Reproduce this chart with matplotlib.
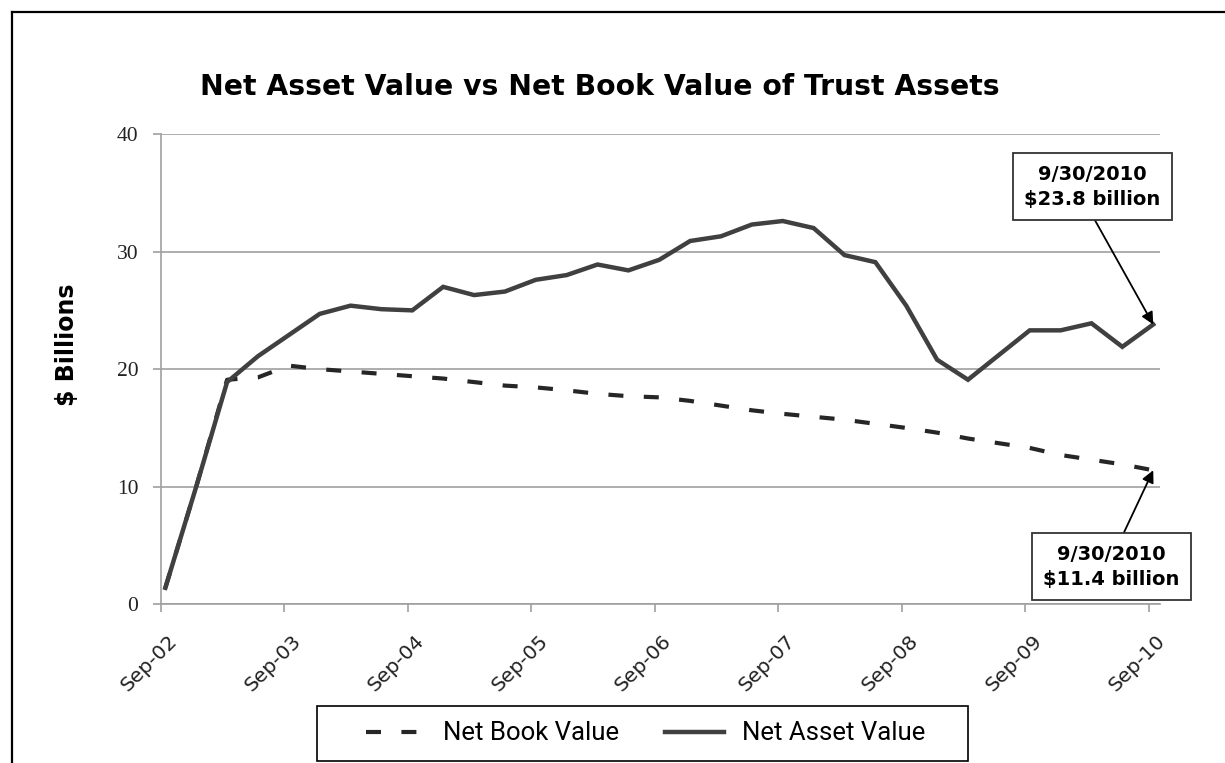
import matplotlib
matplotlib.use("Agg")
import matplotlib.pyplot as plt
from matplotlib.lines import Line2D
from matplotlib.patches import Rectangle
from matplotlib.transforms import ScaledTranslation, blended_transform_factory
import numpy as np

# quarterly values, Sep-02 .. Sep-10 ($ billions)
net_asset = [1.4, 10.0, 18.9, 21.1, 22.9, 24.7, 25.4, 25.1, 25.0, 27.0, 26.3,
             26.6, 27.6, 28.0, 28.9, 28.4, 29.3, 30.9, 31.3, 32.3, 32.6, 32.0,
             29.7, 29.1, 25.4, 20.8, 19.1, 21.2, 23.3, 23.3, 23.9, 21.9, 23.8]
net_book = [1.4, 10.0, 19.1, 19.3, 20.3, 20.0, 19.8, 19.6, 19.4, 19.2, 18.9,
            18.6, 18.45, 18.2, 17.9, 17.7, 17.6, 17.3, 16.9, 16.5, 16.2, 15.95,
            15.7, 15.35, 15.0, 14.6, 14.1, 13.7, 13.3, 12.7, 12.3, 11.9, 11.4]
tick_labels = ["Sep-02", "Sep-03", "Sep-04", "Sep-05", "Sep-06",
               "Sep-07", "Sep-08", "Sep-09", "Sep-10"]
nav_note = "9/30/2010\n$23.8 billion"
nbv_note = "9/30/2010\n$11.4 billion"

W, H = 1225, 763
fig = plt.figure(figsize=(W / 100, H / 100), dpi=100)
ax = fig.add_axes([160.7 / W, 1 - 604.3 / H, (1160 - 160.7) / W, (604.3 - 134) / H])

x = np.arange(len(net_asset)) + 0.15
dash = (0, (3.6, 4.9))
ax.plot(x, net_book, color="#262626", lw=3, linestyle=dash, dash_capstyle="butt")
ax.plot(x, net_asset, color="#404040", lw=3.2, solid_joinstyle="miter")

ax.set_xlim(0, 32.37)
ax.set_ylim(0, 40)
ax.set_yticks([0, 10, 20, 30, 40])
tick_pos = np.arange(0, 33, 4)
ax.set_xticks(tick_pos)
ax.set_xticklabels([])
# rotated date labels, placed like Excel does (end of text just right of the tick)
trans = blended_transform_factory(ax.transData, ax.transAxes) + \
    ScaledTranslation(0.14, -0.34, fig.dpi_scale_trans)
for p, lab in zip(tick_pos, tick_labels):
    ax.text(p, 0, lab, transform=trans, rotation=45, rotation_mode="anchor",
            ha="right", va="center", fontsize=14.5, family="DejaVu Sans", color="#222222")
for lab in ax.get_yticklabels():
    lab.set_family("Liberation Serif")
    lab.set_fontsize(15.5)
    lab.set_color("#222222")
ax.grid(axis="y", color="#a0a0a0", lw=1.2)
ax.set_axisbelow(True)
for s in ["top", "right"]:
    ax.spines[s].set_visible(False)
for s in ["left", "bottom"]:
    ax.spines[s].set_color("#a0a0a0")
    ax.spines[s].set_linewidth(1.2)
ax.tick_params(axis="both", color="#a0a0a0", length=6, width=1.2)
ax.tick_params(axis="y", pad=10)

fig.text(600 / W, 1 - 87 / H, "Net Asset Value vs Net Book Value of Trust Assets",
         ha="center", va="center", fontsize=20.3, fontweight="bold", family="DejaVu Sans")
fig.text(67 / W, 1 - 345 / H, "$ Billions", rotation=90, ha="center", va="center",
         fontsize=17, fontweight="bold", family="DejaVu Sans")

box = dict(boxstyle="square,pad=0.58", fc="white", ec="#333333", lw=1.3)
ax.annotate(nav_note, xy=(x[-1], net_asset[-1]), xycoords="data",
            xytext=(1092.5, H - 186.5), textcoords="figure pixels",
            ha="center", va="center", fontsize=14, fontweight="bold",
            family="DejaVu Sans", linespacing=1.4, bbox=box,
            arrowprops=dict(arrowstyle="-|>", color="black", lw=1.3,
                            mutation_scale=18, relpos=(0.47, 0), shrinkA=0, shrinkB=0))
ax.annotate(nbv_note, xy=(x[-1], net_book[-1]), xycoords="data",
            xytext=(1111.5, H - 566.5), textcoords="figure pixels",
            ha="center", va="center", fontsize=14, fontweight="bold",
            family="DejaVu Sans", linespacing=1.4, bbox=box,
            arrowprops=dict(arrowstyle="-|>", color="black", lw=1.3,
                            mutation_scale=18, relpos=(0.55, 1), shrinkA=0, shrinkB=0))

# legend with its own frame
fig.patches.append(Rectangle((317 / W, 1 - 761 / H), 651 / W, 55 / H,
                             transform=fig.transFigure, fill=False, ec="black", lw=1.2))
handles = [Line2D([], [], color="#262626", lw=3, linestyle=dash, dash_capstyle="butt"),
           Line2D([], [], color="#404040", lw=3.2)]
fig.legend(handles, ["Net Book Value", "Net Asset Value"], ncol=2, frameon=False,
           loc="center", bbox_to_anchor=(645.5 / W, 1 - 733.5 / H),
           prop={"family": "Roboto", "size": 18.5},
           handlelength=2.3, handletextpad=0.7, columnspacing=1.8)

# outer chart border
fig.add_artist(Line2D([12 / W, 1], [1 - 12 / H, 1 - 12 / H], transform=fig.transFigure,
                      color="black", lw=1.6))
fig.add_artist(Line2D([12 / W, 12 / W], [0, 1 - 12 / H], transform=fig.transFigure,
                      color="black", lw=1.6))

fig.savefig("out.png", dpi=100, facecolor="white")
